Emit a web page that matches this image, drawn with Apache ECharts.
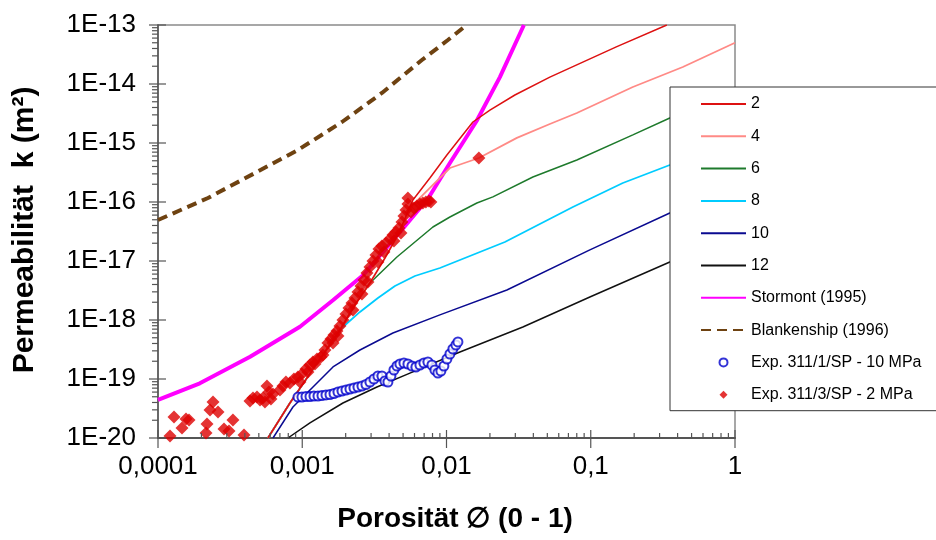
<!DOCTYPE html>
<html>
<head>
<meta charset="utf-8">
<script src="https://cdn.jsdelivr.net/npm/echarts@6/dist/echarts.min.js"></script>
<style>
  html, body { margin: 0; padding: 0; background: #fff; }
  #chart { width: 936px; height: 540px; }
</style>
</head>
<body>
<div id="chart"></div>
<script>
// Porosity / permeability relations for rock salt (log-log)
const FONT = '"Liberation Sans", Arial, Helvetica, sans-serif';

// axis ranges and tick labels
const xRange = [1e-4, 1];
const yRange = [1e-20, 1e-13];
const xMajorTicks = [1e-4, 1e-3, 1e-2, 1e-1, 1];
const yMajorTicks = [1e-20, 1e-19, 1e-18, 1e-17, 1e-16, 1e-15, 1e-14, 1e-13];

// model curves: [porosity, permeability m²]
const curve2 = [[5.78e-4,1e-20],[8.217e-4,3.92e-20],[1.078e-3,1.04e-19],[1.436e-3,2.87e-19],[1.825e-3,6.77e-19],
  [2.319e-3,1.80e-18],[2.946e-3,4.24e-18],[3.742e-3,1.12e-17],[4.604e-3,2.76e-17],[5.85e-3,1.08e-16],
  [7.672e-3,2.55e-16],[1.0064e-2,6.26e-16],[1.524e-2,2.27e-15],[2.0e-2,3.62e-15],[2.979e-2,6.51e-15],
  [5.206e-2,1.31e-14],[0.1517,4.29e-14],[0.3369,1e-13]];
const curve4 = [[5.78e-4,1e-20],[8.217e-4,3.92e-20],[1.078e-3,1.04e-19],[1.436e-3,2.87e-19],[1.825e-3,6.77e-19],
  [2.319e-3,1.80e-18],[2.946e-3,4.24e-18],[3.742e-3,1.12e-17],[4.604e-3,2.76e-17],[5.85e-3,8.90e-17],
  [7.672e-3,1.73e-16],[1.056e-2,3.77e-16],[1.677e-2,5.57e-16],[3.075e-2,1.22e-15],[5.206e-2,2.10e-15],
  [8.01e-2,3.22e-15],[0.1958,8.89e-15],[0.4348,1.94e-14],[1.0,5.01e-14]];
const curve6 = [[5.78e-4,1e-20],[8.217e-4,3.92e-20],[1.078e-3,1.04e-19],[1.436e-3,2.87e-19],[1.825e-3,6.77e-19],
  [2.319e-3,1.80e-18],[2.946e-3,4.24e-18],[4.533e-3,1.17e-17],[8.05e-3,3.77e-17],[1.056e-2,5.57e-17],
  [1.624e-2,9.62e-17],[2.097e-2,1.22e-16],[3.97e-2,2.65e-16],[8.01e-2,5.15e-16],[0.1958,1.37e-15],
  [0.3534,2.65e-15],[1.0,7.32e-15]];
const curve8 = [[5.78e-4,1e-20],[8.217e-4,3.92e-20],[1.078e-3,1.04e-19],[1.436e-3,2.87e-19],[1.915e-3,7.61e-19],
  [2.512e-3,1.37e-18],[3.347e-3,2.36e-18],[4.39e-3,3.77e-18],[6.039e-3,5.57e-18],[9.0e-3,7.61e-18],
  [2.54e-2,2.10e-17],[7.52e-2,8.23e-17],[0.1669,2.10e-16],[0.3534,4.24e-16],[1.0,1.26e-15]];
const curve10 = [[6.27e-4,1e-20],[8.62e-4,3.35e-20],[1.187e-3,7.31e-20],[1.633e-3,1.60e-19],[2.512e-3,3.10e-19],
  [4.252e-3,6.02e-19],[9.0e-3,1.22e-18],[2.622e-2,3.22e-18],[9.86e-2,1.54e-17],[0.3534,6.51e-17],[1.0,1.94e-16]];
const curve12 = [[7.96e-4,1e-20],[1.131e-3,1.80e-20],[1.915e-3,3.92e-20],[3.294e-3,7.31e-20],[5.578e-3,1.26e-19],
  [1.239e-2,2.87e-19],[3.384e-2,7.61e-19],[9.86e-2,2.45e-18],[0.3534,9.62e-18],[1.0,2.87e-17]];
const stormont1995 = [[1e-4,4.41e-20],[1.95e-4,8.45e-20],[4.35e-4,2.39e-19],[9.64e-4,7.69e-19],[1.64e-3,2.18e-18],
  [2.65e-3,5.79e-18],[4.40e-3,2.45e-17],[7.47e-3,1.16e-16],[1.056e-2,4.58e-16],[1.617e-2,2.36e-15],
  [2.345e-2,1.31e-14],[3.44e-2,1e-13]];
const blankenship1996 = [[1e-4,4.95e-17],[2.221e-4,1.17e-16],[4.701e-4,3.10e-16],[9.338e-4,7.61e-16],
  [1.885e-3,2.27e-15],[3.567e-3,7.04e-15],[6.752e-3,2.55e-14],[1.023e-2,5.57e-14],[1.378e-2,1e-13]];

// measurements
const exp311_1 = [[9.34e-4,4.95e-20],[9.95e-4,4.95e-20],[1.061e-3,5.05e-20],[1.131e-3,5.05e-20],[1.205e-3,5.15e-20],
  [1.285e-3,5.15e-20],[1.369e-3,5.25e-20],[1.46e-3,5.36e-20],[1.556e-3,5.46e-20],[1.659e-3,5.68e-20],
  [1.768e-3,6.02e-20],[1.885e-3,6.26e-20],[2.009e-3,6.51e-20],[2.141e-3,6.77e-20],[2.282e-3,7.04e-20],
  [2.432e-3,7.32e-20],[2.593e-3,7.61e-20],[2.764e-3,8.07e-20],[2.946e-3,8.9e-20],[3.14e-3,1.0e-19],
  [3.347e-3,1.124e-19],[3.567e-3,1.124e-19],[3.742e-3,9.25e-20],[3.926e-3,8.9e-20],[4.118e-3,1.124e-19],
  [4.32e-3,1.421e-19],[4.532e-3,1.661e-19],[4.754e-3,1.796e-19],[5.067e-3,1.867e-19],[5.401e-3,1.796e-19],
  [5.757e-3,1.661e-19],[6.137e-3,1.597e-19],[6.541e-3,1.727e-19],[6.972e-3,1.867e-19],[7.432e-3,1.941e-19],
  [7.922e-3,1.727e-19],[8.31e-3,1.421e-19],[8.718e-3,1.264e-19],[9.146e-3,1.367e-19],[9.594e-3,1.661e-19],
  [1.0064e-2,2.183e-19],[1.056e-2,2.653e-19],[1.107e-2,3.225e-19],[1.162e-2,3.77e-19],[1.2e-2,4.24e-19]];
const exp311_3 = [[1.211e-4,1.08e-20],[1.291e-4,2.27e-20],[1.467e-4,1.48e-20],[1.563e-4,2.10e-20],[1.64e-4,2.02e-20],
  [2.151e-4,1.22e-20],[2.186e-4,1.73e-20],[2.293e-4,2.98e-20],[2.405e-4,4.08e-20],[2.605e-4,2.76e-20],
  [2.867e-4,1.42e-20],[3.105e-4,1.31e-20],[3.309e-4,2.02e-20],[3.945e-4,1.12e-20],
  [4.341e-4,4.24e-20],[4.554e-4,4.76e-20],[4.855e-4,4.95e-20],[5.093e-4,4.41e-20],[5.342e-4,4.76e-20],
  [5.515e-4,4.08e-20],[5.694e-4,7.61e-20],[5.878e-4,6.02e-20],[6.069e-4,4.58e-20],[6.266e-4,5.57e-20],
  [7.006e-4,6.51e-20],[7.35e-4,7.61e-20],[7.71e-4,8.90e-20],[8.217e-4,8.55e-20],[8.759e-4,1.0e-19],
  [9.338e-4,1.08e-19],[9.64e-4,8.90e-20],[9.952e-4,1.22e-19],[1.061e-3,1.48e-19],[1.095e-3,1.31e-19],
  [1.131e-3,1.73e-19],[1.186e-3,1.94e-19],[1.225e-3,1.80e-19],[1.265e-3,2.18e-19],[1.348e-3,2.36e-19],
  [1.391e-3,2.55e-19],[1.436e-3,3.10e-19],[1.507e-3,4.07e-19],[1.581e-3,4.76e-19],[1.633e-3,4.07e-19],
  [1.659e-3,5.57e-19],[1.74e-3,6.51e-19],[1.768e-3,5.36e-19],[1.825e-3,7.91e-19],[1.915e-3,1.0e-18],
  [2.009e-3,1.26e-18],[2.107e-3,1.60e-18],[2.21e-3,1.94e-18],[2.246e-3,1.48e-18],[2.319e-3,2.36e-18],
  [2.432e-3,2.98e-18],[2.552e-3,3.77e-18],[2.593e-3,2.76e-18],[2.677e-3,4.76e-18],[2.808e-3,6.26e-18],
  [2.854e-3,4.41e-18],[2.946e-3,7.91e-18],[3.09e-3,1.0e-17],[3.242e-3,1.26e-17],[3.347e-3,9.62e-18],
  [3.401e-3,1.60e-17],[3.567e-3,1.80e-17],[3.684e-3,1.42e-17],[3.802e-3,2.02e-17],[4.053e-3,2.36e-17],
  [4.252e-3,2.76e-17],[4.32e-3,2.18e-17],[4.461e-3,3.10e-17],[4.679e-3,3.62e-17],[4.831e-3,2.98e-17],
  [4.908e-3,4.58e-17],[5.067e-3,5.79e-17],[5.232e-3,7.32e-17],[5.401e-3,9.25e-17],[5.401e-3,1.17e-16],
  [5.666e-3,6.77e-17],[5.944e-3,7.91e-17],[6.235e-3,8.55e-17],[6.541e-3,9.25e-17],[6.861e-3,9.62e-17],
  [7.197e-3,1.0e-16],[7.551e-3,1.04e-16],[7.796e-3,1.0e-16],[1.677e-2,5.57e-16]];

// minor tick positions (2..9 within each decade)
function minorTicks(range) {
  const out = [];
  const lo = Math.round(Math.log10(range[0])), hi = Math.round(Math.log10(range[1]));
  for (let e = lo; e < hi; e++) for (let m = 2; m <= 9; m++) out.push(m * Math.pow(10, e));
  return out;
}
const xTickData = xMajorTicks.map(v => [v, 1]).concat(minorTicks(xRange).map(v => [v, 0]));
const yTickData = yMajorTicks.map(v => [v, 1]).concat(minorTicks(yRange).map(v => [v, 0]));

function xLabel(v) {
  const e = Math.round(Math.log10(v));
  return e >= 0 ? '1' : '0,' + '0'.repeat(-e - 1) + '1';
}
function yLabel(v) {
  return '1E' + Math.round(Math.log10(v));
}

const TICK_COLOR = '#555';
function lineSeries(name, data, color, width, extra) {
  return Object.assign({
    name, type: 'line', data, symbol: 'none', smooth: false, clip: true,
    lineStyle: { color, width }, itemStyle: { color }, z: 3
  }, extra || {});
}
// legend entries for curves: line only, no marker
const lineEntry = name => ({ name, itemStyle: { opacity: 0 } });

const chart = echarts.init(document.getElementById('chart'), null, { renderer: 'canvas' });
chart.setOption({
  animation: false,
  backgroundColor: '#fff',
  grid: { left: 158, right: 201, top: 25, bottom: 102, show: true, borderColor: '#8a8a8a', borderWidth: 1.5 },
  xAxis: {
    type: 'log', logBase: 10, min: xRange[0], max: xRange[1], interval: 1,
    axisLine: { show: true, onZero: false, lineStyle: { color: TICK_COLOR, width: 2 } },
    axisTick: { show: false }, splitLine: { show: false }, minorTick: { show: false },
    axisLabel: { margin: 16, formatter: xLabel, fontFamily: FONT, fontSize: 26, color: '#000', showMinLabel: true, showMaxLabel: true }
  },
  yAxis: {
    type: 'log', logBase: 10, min: yRange[0], max: yRange[1], interval: 1,
    axisLine: { show: true, onZero: false, lineStyle: { color: TICK_COLOR, width: 1.5 } },
    axisTick: { show: false }, splitLine: { show: false }, minorTick: { show: false },
    axisLabel: { margin: 22, formatter: yLabel, fontFamily: FONT, fontSize: 26, color: '#000', showMinLabel: true, showMaxLabel: true }
  },
  legend: {
    orient: 'vertical', left: 670, top: 87,
    itemWidth: 45, itemHeight: 8, itemGap: 16.3,
    padding: [9, 150, 8, 30],
    backgroundColor: '#fff', borderColor: '#333', borderWidth: 1,
    selectedMode: false, z: 10,
    textStyle: { fontFamily: FONT, fontSize: 16, color: '#000' },
    data: [
      lineEntry('2'), lineEntry('4'), lineEntry('6'), lineEntry('8'), lineEntry('10'), lineEntry('12'),
      lineEntry('Stormont (1995)'), lineEntry('Blankenship (1996)'),
      { name: 'Exp. 311/1/SP - 10 MPa', itemStyle: { borderWidth: 1, borderColor: '#5555ee' } },
      { name: 'Exp. 311/3/SP - 2 MPa', icon: 'path://M0,-1L1,0L0,1L-1,0Z' }
    ]
  },
  graphic: [
    { type: 'text', x: 455, y: 519,
      style: { text: 'Porosität \u2205 (0 - 1)', font: 'bold 28px ' + FONT, fill: '#000', align: 'center', verticalAlign: 'middle' } },
    { type: 'text', x: 25, y: 230, rotation: Math.PI / 2,
      style: { text: 'Permeabilität  k (m²)', font: 'bold 30px ' + FONT, fill: '#000', align: 'center', verticalAlign: 'middle' } }
  ],
  series: [
    lineSeries('Blankenship (1996)', blankenship1996, '#6e4211', 4, { lineStyle: { color: '#6e4211', width: 4, type: [10, 6] } }),
    lineSeries('Stormont (1995)', stormont1995, '#ff00ff', 4),
    lineSeries('12', curve12, '#111111', 1.5),
    lineSeries('10', curve10, '#0a0a90', 1.5),
    lineSeries('8', curve8, '#00ccff', 1.8),
    lineSeries('6', curve6, '#1e7a2c', 1.5),
    lineSeries('4', curve4, '#ff8a86', 1.8),
    lineSeries('2', curve2, '#dd1111', 1.5),
    {
      name: 'Exp. 311/1/SP - 10 MPa', type: 'scatter', data: exp311_1,
      symbol: 'emptyCircle', symbolSize: 9, z: 5,
      itemStyle: { color: '#0000cc', borderColor: '#0000cc', borderWidth: 2.5 }
    },
    {
      name: 'Exp. 311/3/SP - 2 MPa', type: 'scatter', data: exp311_3,
      symbol: 'diamond', symbolSize: 13, z: 6,
      itemStyle: { color: '#dd0000' }
    },
    {
      name: 'xTicks', type: 'custom', data: xTickData, clip: false, silent: true, z: 8,
      renderItem(params, api) {
        const p = api.coord([api.value(0), yRange[0]]);
        const major = api.value(1) === 1;
        return { type: 'line',
          shape: { x1: p[0], y1: p[1] - (major ? 8 : 5), x2: p[0], y2: p[1] + (major ? 10 : 0) },
          style: { stroke: TICK_COLOR, lineWidth: 1.2 } };
      }
    },
    {
      name: 'yTicks', type: 'custom', data: yTickData.map(d => [xRange[0], d[0], d[1]]), clip: false, silent: true, z: 8,
      renderItem(params, api) {
        const p = api.coord([xRange[0], api.value(1)]);
        const major = api.value(2) === 1;
        return { type: 'line',
          shape: { x1: p[0] - (major ? 9 : 6), y1: p[1], x2: p[0] + (major ? 8 : 0), y2: p[1] },
          style: { stroke: TICK_COLOR, lineWidth: 1.2 } };
      }
    }
  ]
});
</script>
</body>
</html>
